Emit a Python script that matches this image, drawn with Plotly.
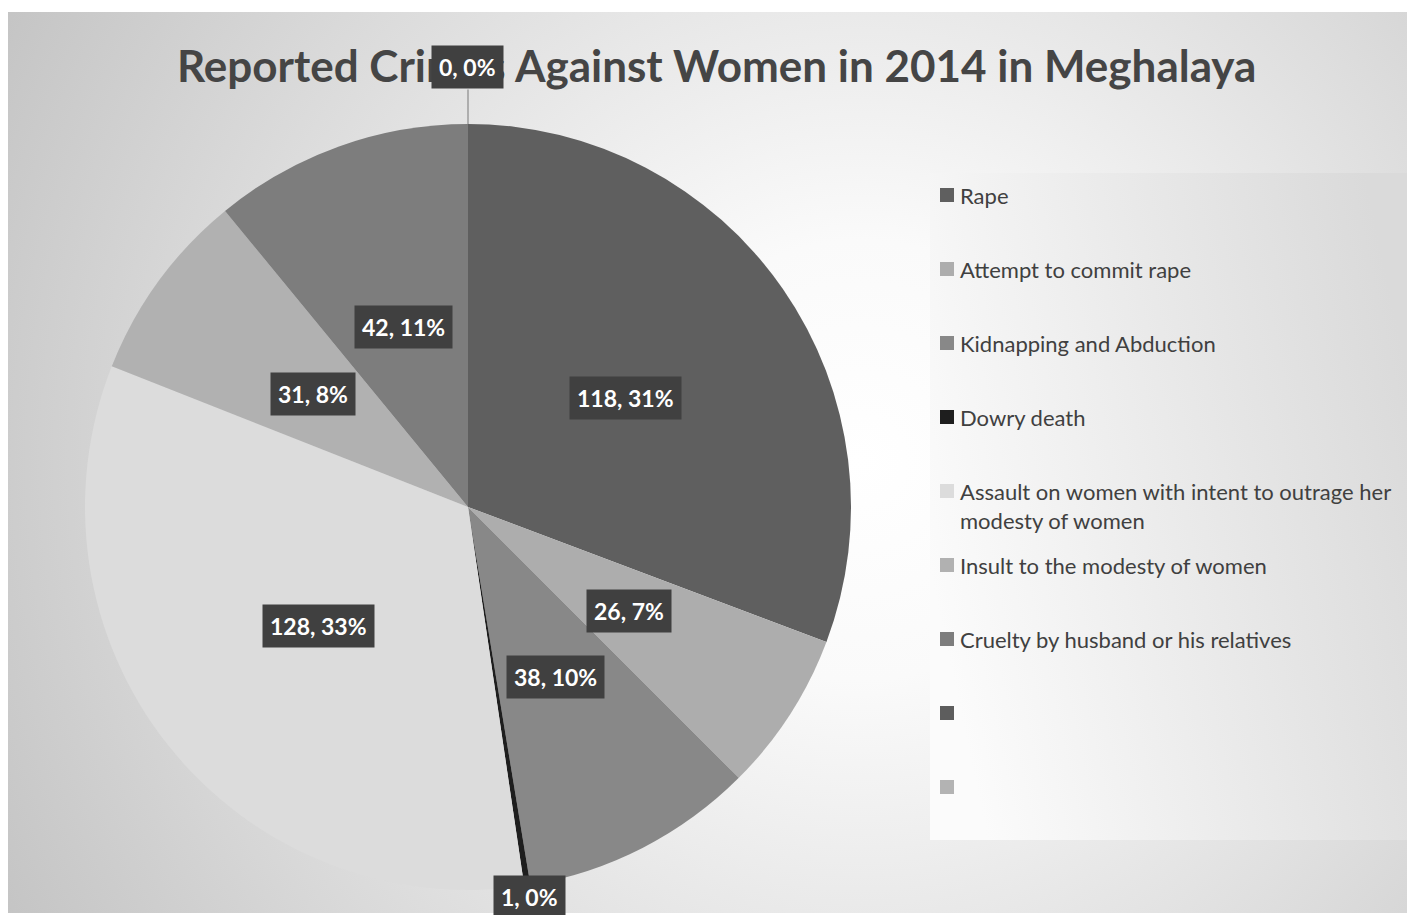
import base64, math, textwrap
import plotly.graph_objects as go

# ---------------- data ----------------
labels = [
    "Rape",
    "Attempt to commit rape",
    "Kidnapping and Abduction",
    "Dowry death",
    "Assault on women with intent to outrage her modesty of women",
    "Insult to the modesty of women",
    "Cruelty by husband or his relatives",
    "",
    " ",
]
values = [118, 26, 38, 1, 128, 31, 42, 0, 0]
colors = ["#5f5f5f", "#adadad", "#888888", "#1e1e1e", "#dcdcdc",
          "#b1b1b1", "#7d7d7d", "#5d5d5d", "#b3b3b3"]
title_text = "Reported Crimes Against Women in 2014 in Meghalaya"

# ---------------- geometry (screen pixels) ----------------
W, H = 1407, 907          # figure size (page has an 8px body margin)
OX, OY = 8, 8
CX, CY, R = 468, 507, 383
FONT = "Lato"

def px(x):
    return (x - OX) / W

def py(y):
    return 1 - (y - OY) / H

fig = go.Figure()
fig.add_trace(go.Pie(
    labels=labels, values=values, sort=False, direction="clockwise",
    rotation=0, marker=dict(colors=colors, line=dict(width=0)),
    textinfo="none", hoverinfo="label+value+percent", showlegend=False,
    domain=dict(x=[px(CX - R), px(CX + R)], y=[py(CY + R), py(CY - R)]),
))

# ---------------- background (gradient) ----------------
bx0, by0, bx1, by1 = 8, 12, 1415, 913
lg = dict(x0=930, y0=173, x1=1408, y1=840)
svg = f"""<svg xmlns='http://www.w3.org/2000/svg' width='{bx1-bx0}' height='{by1-by0}' viewBox='0 0 {bx1-bx0} {by1-by0}' preserveAspectRatio='none'>
<defs>
<radialGradient id='g' gradientUnits='userSpaceOnUse' cx='{860-bx0}' cy='{460-by0}' r='1000'>
<stop offset='0' stop-color='#ffffff'/><stop offset='0.22' stop-color='#fafafa'/><stop offset='1' stop-color='#c2c2c2'/>
</radialGradient>
<linearGradient id='l' x1='0' y1='0.6' x2='1' y2='0.3'>
<stop offset='0' stop-color='#fbfbfb'/><stop offset='1' stop-color='#dadada'/>
</linearGradient>
</defs>
<rect x='0' y='0' width='{bx1-bx0}' height='{by1-by0}' fill='url(#g)'/>
<rect x='{lg['x0']-bx0}' y='{lg['y0']-by0}' width='{lg['x1']-lg['x0']}' height='{lg['y1']-lg['y0']}' fill='url(#l)'/>
</svg>"""
src = "data:image/svg+xml;base64," + base64.b64encode(svg.encode()).decode()
fig.add_layout_image(dict(source=src, xref="paper", yref="paper",
                          x=px(bx0), y=py(by0), sizex=(bx1 - bx0) / W, sizey=(by1 - by0) / H,
                          xanchor="left", yanchor="top", sizing="stretch", layer="below"))

annotations = []
shapes = []

# title
annotations.append(dict(text=f"<b>{title_text}</b>", x=px(716), y=py(65), xref="paper", yref="paper",
                        showarrow=False, xanchor="center", yanchor="middle",
                        font=dict(family=FONT, size=44, color="#454545")))

# ---------------- data labels ----------------
total = sum(values)
cum = 0
for i, v in enumerate(values):
    mid = (cum + v / 2) / total * 2 * math.pi
    cum += v
    if i == 8:
        continue  # second empty slice shares the same label spot
    share = v / total
    if share >= 0.02:
        rf = 0.5
    elif v == 0:
        rf = 1.15
    else:
        rf = 1.03
    lx = CX + rf * R * math.sin(mid)
    ly = CY - rf * R * math.cos(mid)
    txt = f"<b>{v}, {round(share*100):.0f}%</b>"
    if v == 0:
        shapes.append(dict(type="line", xref="paper", yref="paper",
                           x0=px(CX + R * math.sin(mid)), y0=py(CY - R * math.cos(mid)),
                           x1=px(CX + 1.09 * R * math.sin(mid)), y1=py(CY - 1.09 * R * math.cos(mid)),
                           line=dict(color="#8a8a8a", width=1.2)))
    annotations.append(dict(text=txt, x=px(lx), y=py(ly), xref="paper", yref="paper",
                            xanchor="center", yanchor="middle",
                            showarrow=False, bgcolor="#404040", borderpad=7,
                            font=dict(family=FONT, size=23, color="#ffffff")))

# ---------------- legend (manual) ----------------
leg_top = 195
leg_step = 74
sq = 14
for i, lab in enumerate(labels):
    yc = leg_top + i * leg_step
    shapes.append(dict(type="rect", xref="paper", yref="paper",
                       x0=px(940), x1=px(940 + sq), y0=py(yc - sq / 2), y1=py(yc + sq / 2),
                       fillcolor=colors[i], line=dict(width=0)))
    if lab.strip():
        wrapped = "<br>".join(textwrap.wrap(lab, 44))
        annotations.append(dict(text=wrapped, x=px(958), y=py(yc - 15), xref="paper", yref="paper",
                                showarrow=False, xanchor="left", yanchor="top", align="left",
                                font=dict(family=FONT, size=22, color="#404040")))

fig.update_layout(
    width=W, height=H, margin=dict(l=0, r=0, t=0, b=0),
    paper_bgcolor="#ffffff", plot_bgcolor="rgba(0,0,0,0)",
    annotations=annotations, shapes=shapes, showlegend=False,
)
fig.write_html("out.html")
